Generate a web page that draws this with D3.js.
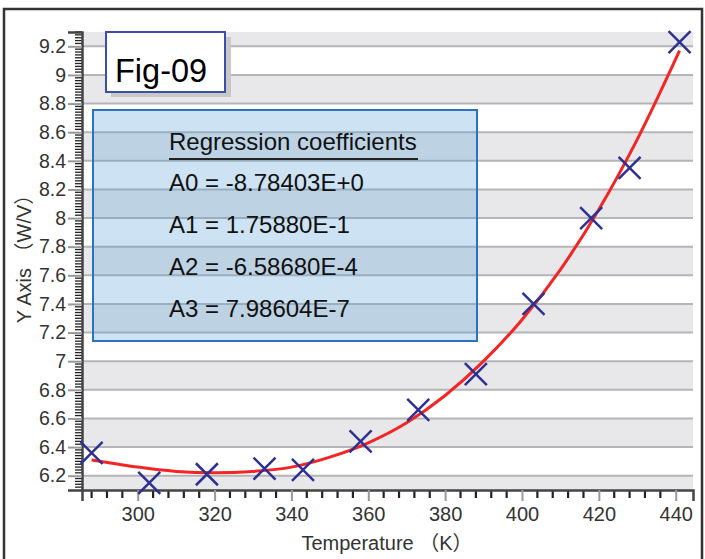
<!DOCTYPE html>
<html>
<head>
<meta charset="utf-8">
<script src="https://cdn.jsdelivr.net/npm/d3@7"></script>
<style>
  body { margin: 0; background: #fff; }
  text { font-family: "Liberation Sans", Arial, "Noto Sans CJK JP", sans-serif; }
</style>
</head>
<body>
<div id="chart"></div>
<script>
// measured points
const tempK = [288, 303, 318, 333, 343, 358, 373, 388, 403, 418, 428, 441];
const yVals = [6.36, 6.15, 6.21, 6.25, 6.24, 6.44, 6.66, 6.91, 7.40, 8.00, 8.35, 9.23];

// fitted curve
const fitK = [288, 295, 300, 310, 320, 330, 340, 350, 360, 370, 380, 390, 400, 410, 420, 430, 441];
const fitY = [6.31, 6.28, 6.26, 6.23, 6.22, 6.23, 6.26, 6.33, 6.43, 6.57, 6.76, 7.00, 7.29, 7.64, 8.06, 8.55, 9.17];

const xTicks = [300, 320, 340, 360, 380, 400, 420, 440];
const yTicks = [6.2, 6.4, 6.6, 6.8, 7, 7.2, 7.4, 7.6, 7.8, 8, 8.2, 8.4, 8.6, 8.8, 9, 9.2];

const coefTitle = "Regression coefficients";
const coefLines = ["A0 = -8.78403E+0", "A1 = 1.75880E-1", "A2 = -6.58680E-4", "A3 = 7.98604E-7"];
const figLabel = "Fig-09";

const W = 705, H = 559;
const svg = d3.select("#chart").append("svg")
  .attr("width", W).attr("height", H);

// outer frame
svg.append("rect")
  .attr("x", 4).attr("y", 9).attr("width", 698).attr("height", 560)
  .attr("fill", "none").attr("stroke", "#333").attr("stroke-width", 2.5);

const x = d3.scaleLinear().domain([285.5, 444.5]).range([82, 693]);
const y = d3.scaleLinear().domain([6.1, 9.3]).range([490, 32]);

// alternating bands
const edges = [6.1].concat(yTicks, [9.3]);
const bands = d3.pairs(edges);
svg.append("g").selectAll("rect")
  .data(bands)
  .join("rect")
  .attr("x", x.range()[0])
  .attr("width", x.range()[1] - x.range()[0])
  .attr("y", d => y(d[1]))
  .attr("height", d => y(d[0]) - y(d[1]))
  .attr("fill", (d, i) => i % 2 === 0 ? "#e8e8ea" : "#ffffff");

// grid lines
svg.append("g").selectAll("line")
  .data(yTicks)
  .join("line")
  .attr("x1", x.range()[0]).attr("x2", x.range()[1])
  .attr("y1", d => y(d)).attr("y2", d => y(d))
  .attr("stroke", "#b5b5b7").attr("stroke-width", 2);

// y axis: minor ticks every 0.02, major grey
const yMinor = d3.range(6.12, 9.3, 0.02).filter(v => Math.abs(v * 5 - Math.round(v * 5)) > 1e-6);
svg.append("g").selectAll("line")
  .data(yMinor)
  .join("line")
  .attr("x1", 75).attr("x2", 82)
  .attr("y1", d => y(d)).attr("y2", d => y(d))
  .attr("stroke", "#222").attr("stroke-width", 1.3);

const yAxis = svg.append("g")
  .attr("transform", "translate(82,0)")
  .call(d3.axisLeft(y).tickValues(yTicks).tickSize(14).tickPadding(2)
    .tickFormat(d => d3.format("~g")(d)));
yAxis.select(".domain").attr("stroke", "#444").attr("stroke-width", 2.5);
yAxis.selectAll(".tick line").attr("stroke", "#999").attr("stroke-width", 2);
yAxis.selectAll(".tick text").attr("font-size", 19.5).attr("fill", "#333")
  .attr("font-family", "'Liberation Sans', Arial, sans-serif");

// x axis: minor ticks every 4 K
const xMinor = d3.range(288, 444, 4).filter(v => v % 20 !== 0);
svg.append("g").selectAll("line")
  .data(xMinor)
  .join("line")
  .attr("x1", d => x(d)).attr("x2", d => x(d))
  .attr("y1", 490).attr("y2", 498)
  .attr("stroke", "#222").attr("stroke-width", 2.2);

const xAxis = svg.append("g")
  .attr("transform", "translate(0,490)")
  .call(d3.axisBottom(x).tickValues(xTicks).tickSize(11).tickPadding(6).tickFormat(d3.format("d")));
xAxis.select(".domain").attr("stroke", "#444").attr("stroke-width", 2.5);
xAxis.selectAll(".tick line").attr("stroke", "#999").attr("stroke-width", 2);
xAxis.selectAll(".tick text").attr("font-size", 20).attr("fill", "#333")
  .attr("font-family", "'Liberation Sans', Arial, sans-serif");

// axis titles
svg.append("text")
  .attr("x", 387).attr("y", 550)
  .attr("text-anchor", "middle")
  .attr("font-size", 20).attr("fill", "#333")
  .text("Temperature （K）");

svg.append("text")
  .attr("transform", "translate(31,254) rotate(-90)")
  .attr("text-anchor", "middle")
  .attr("font-size", 20).attr("fill", "#333")
  .text("Y Axis （W/V）");

// coefficients box
const box = svg.append("g");
box.append("rect")
  .attr("x", 93).attr("y", 110).attr("width", 384).attr("height", 231)
  .attr("fill", "rgb(88,158,212)").attr("fill-opacity", 0.3)
  .attr("stroke", "#2a72c2").attr("stroke-width", 2);
box.append("text")
  .attr("x", 169).attr("y", 150)
  .attr("font-size", 24).attr("fill", "#111")
  .text(coefTitle);
box.append("line")
  .attr("x1", 169).attr("x2", 418).attr("y1", 159).attr("y2", 159)
  .attr("stroke", "#222").attr("stroke-width", 2);
box.selectAll("text.coef")
  .data(coefLines)
  .join("text")
  .attr("class", "coef")
  .attr("x", 169).attr("y", (d, i) => 191 + i * 42)
  .attr("font-size", 24).attr("fill", "#111")
  .text(d => d);

// fitted curve
const line = d3.line()
  .x(d => x(d[0])).y(d => y(d[1]))
  .curve(d3.curveMonotoneX);
svg.append("path")
  .datum(d3.zip(fitK, fitY))
  .attr("d", line)
  .attr("fill", "none").attr("stroke", "#f42525").attr("stroke-width", 3);

// point markers
const m = 11;
svg.append("g").selectAll("path")
  .data(d3.zip(tempK, yVals))
  .join("path")
  .attr("d", d => {
    const cx = x(d[0]), cy = y(d[1]);
    return `M${cx - m},${cy - m}L${cx + m},${cy + m}M${cx - m},${cy + m}L${cx + m},${cy - m}`;
  })
  .attr("stroke", "#2e3192").attr("stroke-width", 2.5).attr("fill", "none");

// Fig label with shadow
svg.append("rect")
  .attr("x", 111).attr("y", 37).attr("width", 120).attr("height", 60)
  .attr("fill", "#c8c8c8");
svg.append("rect")
  .attr("x", 106).attr("y", 32).attr("width", 119).attr("height", 60)
  .attr("fill", "#fff").attr("stroke", "#3b4ea8").attr("stroke-width", 2);
svg.append("text")
  .attr("x", 115).attr("y", 82)
  .attr("font-size", 32.5).attr("fill", "#000")
  .text(figLabel);
</script>
</body>
</html>
